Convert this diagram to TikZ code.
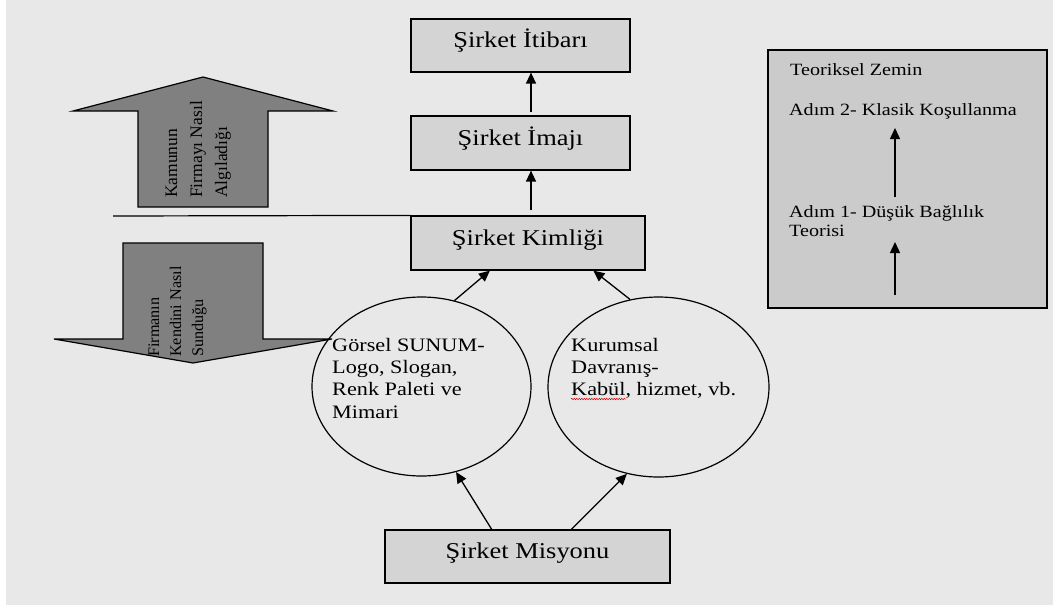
\documentclass[tikz,border=0pt]{standalone}
\usepackage{fontspec}
\setmainfont{Liberation Serif}
\newfontfamily\wideserif{Liberation Serif}[FakeStretch=1.17]
\usetikzlibrary{arrows.meta,shapes.geometric,calc,decorations.pathmorphing}
\definecolor{pagebg}{HTML}{E8E8E8}
\definecolor{boxfill}{HTML}{D4D4D4}
\definecolor{theoryfill}{HTML}{CBCBCB}
\definecolor{blockgray}{HTML}{808080}

\begin{document}
\begin{tikzpicture}[x=1pt,y=-1pt,
  stage/.style={draw, line width=1.2pt, fill=boxfill, inner sep=0pt,
    text height=13pt, text depth=9pt,
    font=\wideserif\fontsize{22.6}{27}\selectfont},
  bubble/.style={draw, line width=1.2pt, ellipse, inner sep=0pt},
  bubbletext/.style={anchor=base west, inner sep=0pt,
    font=\wideserif\fontsize{19}{22}\selectfont},
  theorytext/.style={anchor=base west, inner sep=0pt,
    font=\wideserif\fontsize{17.2}{20}\selectfont},
  flow/.style={line width=1.3pt, -{Triangle[length=11pt,width=10pt]}},
  block/.style={draw, line width=1.2pt, fill=blockgray, line join=miter},
  vtext/.style={rotate=90, anchor=north west, align=left, inner sep=0pt}
]

% page
\useasboundingbox (0,0) rectangle (1053,605);
\fill[white] (0,0) rectangle (1053,605);
\fill[pagebg] (6,0) rectangle (1053,605);

% central chain of boxes
\node[stage, minimum width=219pt, minimum height=53pt] (itibar) at (520.5,45.5) {Şirket İtibarı};
\node[stage, minimum width=219pt, minimum height=54pt] (imaj) at (520.5,143) {Şirket İmajı};
\node[stage, minimum width=234pt, minimum height=54pt] (kimlik) at (528,243) {Şirket Kimliği};
\node[stage, minimum width=285pt, minimum height=53pt] (misyon) at (527.5,556.5) {Şirket Misyonu};

% big block arrows on the left
\draw[block] (203,77) -- (333,111) -- (268,111) -- (268,207) -- (138,207)
  -- (138,111) -- (73,111) -- cycle;
\draw[block] (123,243) -- (263,243) -- (263,339) -- (332,339) -- (193,363)
  -- (54,339) -- (123,339) -- cycle;
\node[vtext, font=\fontsize{17.5}{25}\selectfont] (kamu) at (165.4,198)
  {Kamunun\\Firmayı Nasıl\\Algıladığı};
\node[vtext, font=\fontsize{16.2}{22}\selectfont] (firma) at (148.3,357)
  {Firmanın\\Kendini Nasıl\\Sunduğu};

% dividing line
\coordinate (divider) at (113,216);
\draw[line width=1.2pt] (divider) -- (kimlik.north west);

% the two ellipses
\node[bubble, minimum width=219pt, minimum height=179pt] (gorsel) at (421.5,386.5) {};
\node[bubble, minimum width=221pt, minimum height=180pt] (kurumsal) at (658.5,387) {};
\foreach \line [count=\i] in {Görsel SUNUM-, {Logo, Slogan,}, Renk Paleti ve, Mimari}
  \node[bubbletext] (gorsel-\i) at (332,{351+22.4*(\i-1)}) {\line};
\foreach \line [count=\i] in {Kurumsal, Davranış-, {Kabül, hizmet, vb.}}
  \node[bubbletext] (kurumsal-\i) at (571,{351+22*(\i-1)}) {\line};
\draw[red!85!black, line width=0.5pt, decorate,
  decoration={snake, amplitude=0.7pt, segment length=2.5pt}]
  ([yshift=-4pt]kurumsal-3.base west) -- ++(55,0);

% connectors
\draw[flow] ([xshift=3pt,yshift=5pt]kimlik.north) -- ([xshift=10.5pt]imaj.south);
\draw[flow] ([xshift=10.5pt,yshift=3pt]imaj.north) -- ([xshift=10.5pt]itibar.south);
\draw[flow] (gorsel.69.6) -- ($(kimlik.south west)!0.338!(kimlik.south east)$);
\draw[flow] (kurumsal.108.5) -- ($(kimlik.south west)!0.778!(kimlik.south east)$);
\draw[flow] ($(misyon.north west)!0.375!(misyon.north east)$) -- (gorsel.-68.9);
\draw[flow] ($(misyon.north west)!0.653!(misyon.north east)$) -- (kurumsal.-110.6);

% theory panel
\node[draw, line width=1.2pt, fill=theoryfill, minimum width=279pt,
  minimum height=258pt, inner sep=0pt] (theory) at (907.5,179) {};
\node[theorytext] (zemin) at (790,75.7) {Teoriksel Zemin};
\node[theorytext] (adim2) at (789,115) {Adım 2- Klasik Koşullanma};
\node[theorytext] (adim1) at (789,217) {Adım 1- Düşük Bağlılık};
\node[theorytext] (teorisi) at (789,236) {Teorisi};
\coordinate (step1top) at (895,128);
\coordinate (step1low) at (895,197);
\coordinate (step0top) at (895,242);
\coordinate (step0low) at (895,295);
\draw[flow] (step1low) -- (step1top);
\draw[flow] (step0low) -- (step0top);
\end{tikzpicture}
\end{document}
